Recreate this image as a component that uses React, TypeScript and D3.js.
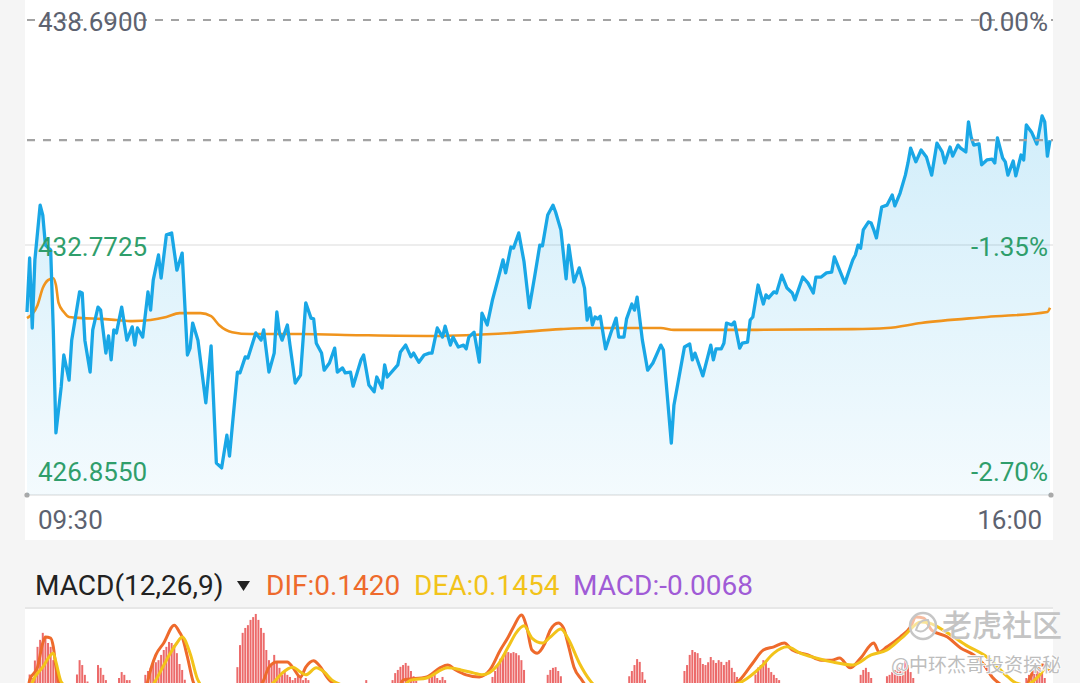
import React from 'react';
import * as d3 from 'd3';

// ---------- DATA ----------
const prevClose = 438.69;
const lastPrice = 435.53;
const priceTicks = [438.69, 432.7725, 426.855];
const timeLabels = ['09:30', '16:00'];
const macdTitle = 'MACD(12,26,9)';
const difLabel = 'DIF:0.1420';
const deaLabel = 'DEA:0.1454';
const macdLabel = 'MACD:-0.0068';

const priceMinutes = [0,1,2,3,5,6,7,9,10,11,13,14,16,17,20,21,22,24,25,27,28,30,31,32,33,34,36,38,40,41,42,44,46,47,48,50,51,53,55,57,59,61,62,63,65,68,70,72,74,76,77,80,81,83,84,87,89,90,92,94,95,96,97,99,100,102,104,106,108,109,110,112,113,115,117,118,120,121,123,124,127,128,130,132,133,135,136,137,141,142,144,146,147,149,151,153,154,156,158,159,161,162,164,166,167,168,170,172,173,175,177,179,181,182,184,185,187,189,191,193,195,196,198,200,201,203,205,206,208,210,212,213,214,215,216,217,218,220,222,224,225,227,228,230,231,232,234,236,238,241,242,245,246,250,252,253,254,257,260,261,262,264,265,266,268,269,271,272,274,275,276,278,280,281,282,284,285,287,289,291,292,295,297,299,300,302,304,306,307,309,311,314,315,316,317,318,320,321,322,323,325,327,329,330,332,334,335,336,338,340,342,344,346,348,349,351,352,354,355,357,358,359,360,362,363,365,367,368,369,371,372,373,375,376,378,379,380,382,384,386,387,388,389];
const prices = [431.01,432.43,430.59,432.38,433.82,433.56,432.77,432.64,430.54,427.83,429.04,429.88,429.22,430.27,431.54,431.51,430.27,429.43,430.54,431.14,431.06,429.93,430.38,429.75,430.54,430.46,431.14,430.27,430.62,430.14,430.59,430.35,431.54,431.06,431.85,432.51,431.90,433.04,433.09,432.11,432.56,429.88,430.06,430.72,430.27,428.62,430.12,427.04,426.91,427.77,427.22,429.43,429.41,429.83,429.80,430.46,430.27,430.54,429.43,429.93,431.01,430.46,430.27,430.67,430.14,429.14,429.35,431.25,430.85,430.83,430.19,429.93,429.48,429.67,430.06,429.43,429.54,429.41,429.43,429.06,429.75,429.88,429.09,428.91,429.30,429.01,429.62,429.30,429.62,429.96,430.14,429.83,429.93,429.69,429.88,429.93,429.93,430.59,430.35,430.64,430.14,430.35,430.09,430.14,430.04,430.35,430.48,429.69,430.98,430.67,431.33,431.85,432.38,432.04,432.72,432.69,433.09,432.33,431.12,431.93,432.77,432.75,433.56,433.82,433.64,433.17,431.88,432.77,431.80,432.17,431.64,430.80,431.12,430.67,430.88,430.83,430.90,430.04,430.46,430.85,430.35,430.35,430.83,431.22,431.06,431.40,430.27,429.48,429.67,430.14,430.01,427.56,428.56,430.09,430.17,429.75,429.93,429.33,430.14,429.75,430.04,430.04,430.19,430.72,430.67,430.75,430.06,430.19,430.22,430.80,430.88,431.72,431.22,431.46,431.38,431.54,431.51,431.98,431.64,431.51,431.33,431.93,431.77,431.51,431.93,431.93,432.04,432.06,432.46,432.11,431.77,432.38,432.51,432.77,432.69,433.17,433.38,433.35,433.17,432.96,433.77,433.82,434.09,433.80,434.14,434.61,434.93,435.32,434.96,435.27,435.09,434.61,435.45,435.22,434.93,435.35,435.11,435.40,435.32,435.22,436.01,435.61,435.40,435.43,434.88,435.01,435.03,434.93,435.59,435.06,434.96,434.61,434.98,434.59,435.14,435.01,435.93,435.74,435.43,436.17,436.01,435.11,435.53];

const avgMinutes = [0,4,6,8,10,11,12,14,16,21,28,34,40,47,53,58,66,70,73,78,85,104,127,154,184,203,215,241,246,264,314,327,340,365,388,389];
const avgPrices = [430.85,431.19,431.64,431.85,431.90,431.72,431.25,431.01,430.88,430.85,430.83,430.80,430.77,430.80,430.88,430.98,430.98,430.90,430.67,430.48,430.43,430.43,430.40,430.38,430.46,430.56,430.59,430.59,430.54,430.54,430.56,430.59,430.72,430.88,431.01,431.12];

const difMinutes = [0,1,4,6,7,9,10,11,13,20,30,40,45,46,49,52,56,58,59,61,63,68,75,85,90,92,95,99,101,104,106,109,111,115,125,140,143,152,157,160,163,167,172,176,180,183,185,188,190,192,194,197,199,202,204,206,208,211,220,235,250,262,271,276,280,284,288,291,297,302,306,309,313,317,322,324,327,332,336,338,341,344,350,355,360,364,367,371,376,380,381,386,389];
const difValues = [0.05,0.114,0.151,0.22,0.237,0.234,0.209,0.151,0.086,0.06,0.04,0.05,0.08,0.114,0.186,0.22,0.271,0.251,0.237,0.18,0.114,0.05,-0.02,0.04,0.114,0.151,0.166,0.166,0.151,0.123,0.151,0.169,0.157,0.114,0.08,0.07,0.114,0.123,0.149,0.157,0.143,0.129,0.123,0.143,0.2,0.237,0.266,0.3,0.266,0.2,0.191,0.22,0.257,0.277,0.263,0.209,0.151,0.114,0.04,0.03,0.06,0.08,0.114,0.163,0.2,0.209,0.22,0.2,0.186,0.171,0.171,0.177,0.149,0.177,0.22,0.194,0.209,0.237,0.266,0.294,0.291,0.257,0.237,0.206,0.186,0.157,0.123,0.097,0.07,0.08,0.114,0.157,0.142];

const deaMinutes = [0,2,6,10,11,13,20,35,45,49,53,57,59,62,65,75,85,94,97,101,104,106,110,113,116,125,140,146,152,160,165,170,173,179,183,186,189,192,196,199,203,206,210,214,225,245,262,271,279,284,289,294,300,306,314,321,327,333,340,343,350,357,365,373,376,380,384,388,389];
const deaValues = [0.03,0.106,0.151,0.191,0.166,0.109,0.07,0.05,0.07,0.114,0.171,0.22,0.237,0.191,0.114,0.04,0.06,0.109,0.134,0.151,0.137,0.129,0.149,0.137,0.114,0.09,0.08,0.114,0.12,0.149,0.143,0.134,0.129,0.157,0.209,0.249,0.269,0.234,0.22,0.237,0.26,0.229,0.163,0.114,0.06,0.05,0.09,0.106,0.151,0.191,0.209,0.191,0.177,0.166,0.157,0.186,0.2,0.237,0.28,0.277,0.249,0.214,0.18,0.123,0.106,0.1,0.12,0.149,0.1454];

const histMinutes = [1,2,3,4,5,6,7,8,9,10,11,12,19,20,21,22,23,27,28,29,30,35,36,37,38,39,45,46,47,48,49,50,51,52,53,54,55,56,57,58,59,60,80,81,82,83,84,85,86,87,88,89,90,91,92,93,94,95,96,97,98,99,100,101,102,103,104,105,106,107,129,139,140,141,142,143,144,145,146,147,148,153,154,155,156,157,158,159,177,178,179,180,181,182,183,184,185,186,187,188,189,198,199,200,201,202,203,229,230,231,232,233,234,235,250,251,252,253,254,255,256,257,258,259,260,261,262,263,264,265,266,267,268,269,270,271,277,278,279,280,281,282,283,284,285,286,317,318,319,320,321,327,328,329,330,331,332,333,334,335,336,337,380,381,382,383,384,385,386,387];
const histValues = [0.13,0.12,0.17,0.209,0.229,0.249,0.237,0.22,0.209,0.171,0.143,0.11,0.13,0.171,0.157,0.129,0.11,0.157,0.149,0.129,0.114,0.12,0.137,0.129,0.114,0.114,0.129,0.14,0.149,0.16,0.165,0.171,0.186,0.2,0.209,0.223,0.22,0.214,0.191,0.16,0.143,0.115,0.151,0.214,0.249,0.263,0.271,0.286,0.294,0.303,0.286,0.263,0.249,0.2,0.171,0.157,0.186,0.166,0.149,0.129,0.14,0.129,0.123,0.114,0.12,0.129,0.123,0.114,0.12,0.114,0.114,0.114,0.134,0.143,0.152,0.157,0.163,0.155,0.14,0.125,0.112,0.12,0.123,0.129,0.12,0.114,0.123,0.114,0.123,0.14,0.157,0.175,0.186,0.191,0.194,0.191,0.194,0.191,0.185,0.171,0.143,0.129,0.143,0.149,0.151,0.14,0.125,0.125,0.14,0.157,0.174,0.166,0.137,0.115,0.14,0.157,0.186,0.2,0.194,0.191,0.177,0.16,0.157,0.165,0.18,0.171,0.163,0.171,0.166,0.157,0.166,0.171,0.149,0.137,0.123,0.11,0.13,0.15,0.157,0.171,0.166,0.149,0.137,0.129,0.12,0.114,0.129,0.143,0.149,0.137,0.12,0.125,0.129,0.137,0.143,0.151,0.149,0.143,0.171,0.157,0.137,0.12,0.12,0.129,0.143,0.137,0.157,0.149,0.134,0.12];

// ---------- STYLE ----------
const FONT = 'Roboto, "Noto Sans", sans-serif';
const GRAY_TEXT = '#5d6270';
const GREEN = '#2f9e6b';
const BLUE = '#19a7e6';
const AVG = '#f0941d';
const DIF_C = '#ee6a2c';
const DEA_C = '#f2c31a';
const MACD_C = '#a05bd6';

export default function App() {
  const W = 1080, H = 683;
  const left = 25, right = 1053;
  const plotBottom = 495;

  const x = d3.scaleLinear().domain([0, 389]).range([27, 1050]);
  const y = d3.scaleLinear().domain([426.855, 438.69]).range([470, 20]);
  const ym = d3.scaleLinear().domain([0, 0.3]).range([720, 615]);

  const pricePts: [number, number][] = priceMinutes.map((m, i) => [m, prices[i]]);
  const avgPts: [number, number][] = avgMinutes.map((m, i) => [m, avgPrices[i]]);
  const difPts: [number, number][] = difMinutes.map((m, i) => [m, difValues[i]]);
  const deaPts: [number, number][] = deaMinutes.map((m, i) => [m, deaValues[i]]);

  const priceLine = d3.line<[number, number]>().x(d => x(d[0])).y(d => y(d[1]));
  const priceArea = d3.area<[number, number]>().x(d => x(d[0])).y0(plotBottom).y1(d => y(d[1]));
  const avgLine = d3.line<[number, number]>().x(d => x(d[0])).y(d => y(d[1])).curve(d3.curveMonotoneX);
  const macdLine = d3.line<[number, number]>().x(d => x(d[0])).y(d => ym(d[1])).curve(d3.curveMonotoneX);

  const pct = (p: number) => ((p / prevClose - 1) * 100).toFixed(2) + '%';
  const baselines = [31, 256, 481];

  return (
    <div style={{ position: 'absolute', left: 0, top: 0, width: W, height: H, overflow: 'hidden' }}>
      <svg width={W} height={H} style={{ display: 'block' }}>
        <defs>
          <linearGradient id="areaGrad" gradientUnits="userSpaceOnUse" x1="0" y1="110" x2="0" y2={plotBottom}>
            <stop offset="0" stopColor={BLUE} stopOpacity={0.2} />
            <stop offset="1" stopColor={BLUE} stopOpacity={0.05} />
          </linearGradient>
          <clipPath id="macdClip">
            <rect x={left} y={609} width={right - left} height={H - 609} />
          </clipPath>
        </defs>
        {/* backgrounds */}
        <rect x={0} y={0} width={W} height={H} fill="#f5f5f5" />
        <rect x={left} y={0} width={right - left} height={540} fill="#ffffff" />
        <rect x={left} y={609} width={right - left} height={H - 609} fill="#ffffff" />
        <line x1={left} x2={right} y1={608} y2={608} stroke="#e2e2e2" strokeWidth={1.5} />

        {/* grid */}
        <line x1={left} x2={right} y1={y(priceTicks[1])} y2={y(priceTicks[1])} stroke="#dcdcdc" strokeWidth={1.2} />
        <line x1={left} x2={right} y1={plotBottom} y2={plotBottom} stroke="#e4e4e4" strokeWidth={1.5} />
        <circle cx={27} cy={plotBottom} r={2.6} fill="#a9a9a9" />
        <circle cx={1051} cy={plotBottom} r={2.6} fill="#a9a9a9" />

        {/* area + lines */}
        <path d={priceArea(pricePts) || ''} fill="url(#areaGrad)" />
        <path d={avgLine(avgPts) || ''} fill="none" stroke={AVG} strokeWidth={2.6} />
        <path d={priceLine(pricePts) || ''} fill="none" stroke={BLUE} strokeWidth={3.3} strokeLinejoin="round" />

        {/* dashed lines */}
        <line x1={left} x2={right} y1={y(prevClose)} y2={y(prevClose)} stroke="#a3a3a3" strokeWidth={2.2} strokeDasharray="8 8" strokeDashoffset={-2} />
        <line x1={left} x2={right} y1={y(lastPrice)} y2={y(lastPrice)} stroke="#a3a3a3" strokeWidth={2.2} strokeDasharray="8 8" strokeDashoffset={-2} />

        {/* y labels */}
        {priceTicks.map((p, i) => (
          <g key={i} fontFamily={FONT} fontSize={26} fill={i === 0 ? GRAY_TEXT : GREEN}>
            <text x={38} y={baselines[i]}>{p.toFixed(4)}</text>
            <text x={1048} y={baselines[i]} textAnchor="end">{pct(p)}</text>
          </g>
        ))}

        {/* time labels */}
        <text x={38} y={529} fontFamily={FONT} fontSize={26} fill={GRAY_TEXT}>{timeLabels[0]}</text>
        <text x={1042} y={529} fontFamily={FONT} fontSize={26} fill={GRAY_TEXT} textAnchor="end">{timeLabels[1]}</text>

        {/* MACD header */}
        <text x={35} y={595} fontFamily={FONT} fontSize={28} fill="#222222">{macdTitle}</text>
        <path d="M237,581 L250,581 L243.5,591 Z" fill="#222222" />
        <text x={266} y={595} fontFamily={FONT} fontSize={28} fill={DIF_C}>{difLabel}</text>
        <text x={414} y={595} fontFamily={FONT} fontSize={28} fill={DEA_C}>{deaLabel}</text>
        <text x={573} y={595} fontFamily={FONT} fontSize={28} fill={MACD_C}>{macdLabel}</text>

        {/* MACD chart */}
        <g clipPath="url(#macdClip)">
          {histMinutes.map((m, i) => (
            <rect key={i} x={x(m) - 1} y={ym(histValues[i])} width={2} height={ym(0) - ym(histValues[i])} fill="#ec6a6a" />
          ))}
          <path d={macdLine(difPts) || ''} fill="none" stroke={DIF_C} strokeWidth={3} />
          <path d={macdLine(deaPts) || ''} fill="none" stroke={DEA_C} strokeWidth={3} />
        </g>

        {/* watermark */}
        <g>
          <circle cx={923} cy={626} r={13} fill="rgba(255,255,255,0.55)" stroke="#c6c6c6" strokeWidth={2.5} />
          <path d="M916,630 Q919,619 928,620 Q931,626 925,630 Q921,633 916,630 Z" fill="none" stroke="#c6c6c6" strokeWidth={2} />
          <text x={942} y={636} fontFamily='"Noto Sans CJK SC", sans-serif' fontSize={30} fontWeight={500} fill="#c4c4c4" stroke="#ffffff" strokeWidth={0.6} paintOrder="stroke">老虎社区</text>
          <text x={891} y={672} fontFamily='"Noto Sans CJK SC", sans-serif' fontSize={19} fill="#bdbdbd" stroke="#ffffff" strokeWidth={1.5} paintOrder="stroke">@中环杰哥投资探秘</text>
        </g>
      </svg>
    </div>
  );
}
